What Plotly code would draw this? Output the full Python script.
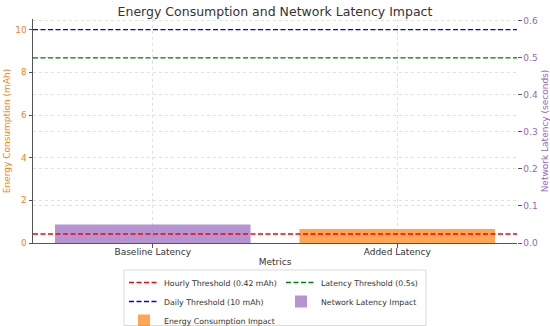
import plotly.graph_objects as go

categories = ["Baseline Latency", "Added Latency"]
energy_values = [0, 0.66]        # mAh (left axis)
latency_values = [0.05, 0]       # seconds (right axis)
hourly_threshold = 0.42          # mAh
daily_threshold = 10             # mAh
latency_threshold = 0.5          # seconds
left_ticks = [0, 2, 4, 6, 8, 10]
right_ticks = [0.0, 0.1, 0.2, 0.3, 0.4, 0.5, 0.6]

ORANGE = "#ff7f0e"
PURPLE = "#9467bd"
FONT = "DejaVu Sans"

W, H = 550, 326
L, R, T, B = 33, 33, 19, 83
PW, PH = W - L - R, H - T - B

def px_x(p):
    return (p - L) / PW

def px_y(p):
    return (H - B - p) / PH

DASH = "5px,2.5px"

fig = go.Figure()

fig.add_trace(go.Bar(
    x=categories, y=energy_values, name="Energy Consumption Impact",
    marker=dict(color="rgba(255,127,14,0.7)", line=dict(width=0)),
    width=0.8, yaxis="y", legend="legend", legendrank=3,
))
fig.add_trace(go.Bar(
    x=categories, y=latency_values, name="Network Latency Impact",
    marker=dict(color="rgba(148,103,189,0.7)", line=dict(width=0)),
    width=0.8, yaxis="y2", legend="legend2", legendrank=2,
))

fig.add_shape(type="line", xref="x domain", x0=0, x1=1, yref="y",
              y0=hourly_threshold, y1=hourly_threshold,
              line=dict(color="#ff0000", dash=DASH, width=1.4),
              showlegend=True, name="Hourly Threshold (0.42 mAh)",
              legend="legend", legendrank=1)
fig.add_shape(type="line", xref="x domain", x0=0, x1=1, yref="y",
              y0=daily_threshold, y1=daily_threshold,
              line=dict(color="#0000ff", dash=DASH, width=1.4),
              showlegend=True, name="Daily Threshold (10 mAh)",
              legend="legend", legendrank=2)
fig.add_shape(type="line", xref="x domain", x0=0, x1=1, yref="y2",
              y0=latency_threshold, y1=latency_threshold,
              line=dict(color="#008000", dash=DASH, width=1.4),
              showlegend=True, name="Latency Threshold (0.5s)",
              legend="legend2", legendrank=1)

# legend frame
fig.add_shape(type="rect", xref="paper", yref="paper",
              x0=px_x(124), x1=px_x(426), y0=px_y(325.5), y1=px_y(270),
              line=dict(color="#d0d0d0", width=0.8), fillcolor="rgba(255,255,255,0.8)",
              layer="below")

grid = dict(showgrid=True, gridcolor="#e0e0e0", gridwidth=0.7, griddash="dot")

fig.update_layout(
    width=W, height=H,
    margin=dict(l=L, r=R, t=T, b=B, autoexpand=False),
    paper_bgcolor="white", plot_bgcolor="white",
    barmode="overlay",
    font=dict(family=FONT, size=9, color="#333333"),
    title=dict(text="Energy Consumption and Network Latency Impact",
               x=0.5, xanchor="center", y=1 - 12 / H, yanchor="middle",
               font=dict(size=12.5, color="#333333")),
    xaxis=dict(type="category", range=[-0.49, 1.49], automargin=False,
               title=dict(text="Metrics", font=dict(size=9), standoff=2),
               showline=True, linecolor="#555555", linewidth=1,
               ticks="outside", ticklen=3.5, tickcolor="#555555",
               ticklabelstandoff=-3,
               tickfont=dict(size=9, color="#333333"), zeroline=False, **grid),
    yaxis=dict(range=[0, 10.5], tickvals=left_ticks, automargin=False,
               title=dict(text="Energy Consumption (mAh)", font=dict(size=9, color=ORANGE), standoff=3),
               tickfont=dict(size=9, color=ORANGE),
               showline=True, linecolor="#555555", linewidth=1,
               ticks="outside", ticklen=3.5, tickcolor="#555555",
               zeroline=False, **grid),
    yaxis2=dict(range=[0, 0.605], tickvals=right_ticks, tickformat=".1f", automargin=False,
                overlaying="y", side="right",
                title=dict(text="Network Latency (seconds)", font=dict(size=9, color=PURPLE), standoff=6),
                tickfont=dict(size=9, color=PURPLE),
                showline=False, ticks="outside", ticklen=3.5, tickcolor="#555555",
                zeroline=False, **grid),
    legend=dict(x=px_x(124), y=px_y(268), xanchor="left", yanchor="top",
                orientation="v", bgcolor="rgba(0,0,0,0)", borderwidth=0,
                font=dict(size=7.8, color="#333333"), traceorder="normal"),
    legend2=dict(x=px_x(281), y=px_y(268), xanchor="left", yanchor="top",
                 orientation="v", bgcolor="rgba(0,0,0,0)", borderwidth=0,
                 font=dict(size=7.8, color="#333333"), traceorder="normal"),
)

fig.write_html("out.html", config={"displayModeBar": False},
               post_script="document.body.style.margin='0';")
